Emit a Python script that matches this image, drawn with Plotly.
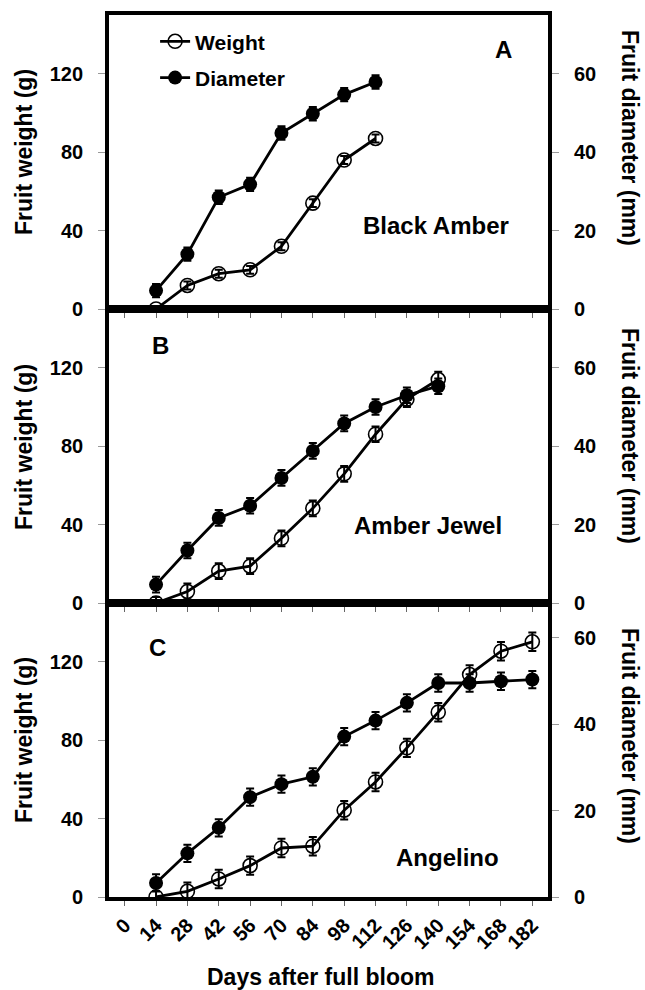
import plotly.graph_objects as go

days = [0, 14, 28, 42, 56, 70, 84, 98, 112, 126, 140, 154, 168, 182]

# Panel A - Black Amber
a_days = [14, 28, 42, 56, 70, 84, 98, 112]
a_weight = [0, 12, 18, 20, 32, 54, 76, 87]
a_weight_err = [1.5, 2, 2, 2, 2, 2, 2, 2]
a_diam = [4.7, 14.0, 28.5, 31.8, 44.9, 49.8, 54.7, 57.9]
a_diam_err = [1.7, 1.7, 1.7, 1.7, 1.7, 1.7, 1.7, 1.7]

# Panel B - Amber Jewel
b_days = [14, 28, 42, 56, 70, 84, 98, 112, 126, 140]
b_weight = [0, 5.9, 16.3, 18.8, 33, 48.3, 65.9, 86.1, 104, 114]
b_weight_err = [3, 4, 4, 4, 4, 4, 4, 4, 4, 4]
b_diam = [4.7, 13.4, 21.7, 24.8, 31.9, 38.8, 45.8, 50.0, 53.0, 55.3]
b_diam_err = [2, 2, 2, 2, 2, 2, 2, 2, 2, 2]

# Panel C - Angelino
c_days = [14, 28, 42, 56, 70, 84, 98, 112, 126, 140, 154, 168, 182]
c_weight = [0, 2.9, 9.2, 16, 25, 25.9, 44.3, 58.7, 76.1, 94.3, 113.5, 125.4, 130.2]
c_weight_err = [3, 4.5, 4.7, 4.7, 4.7, 4.7, 4.7, 4.7, 4.7, 4.7, 4.7, 4.7, 4.7]
c_diam = [3.25, 10.1, 16.0, 23.1, 26.1, 27.8, 37.1, 40.8, 44.9, 49.5, 49.5, 49.9, 50.3]
c_diam_err = [2, 2, 2, 2, 2, 2, 2, 2, 2, 2, 2, 2, 2]

left_ticks = [0, 40, 80, 120]
right_ticks = [0, 20, 40, 60]

FONT = "Liberation Sans"
NB = "\u00a0"
fig = go.Figure()

def add_pair(xd, w, we, d, de, xa, yl, yr, show):
    fig.add_trace(go.Scatter(
        x=xd, y=w, xaxis=xa, yaxis=yl, name="<b>Weight</b>", showlegend=show,
        legendgroup="w", mode="lines+markers",
        line=dict(color="black", width=2.8),
        marker=dict(symbol="circle-open", size=14, color="black", line=dict(width=1.6)),
        error_y=dict(type="data", array=we, color="black", thickness=2, width=4),
    ))
    fig.add_trace(go.Scatter(
        x=xd, y=d, xaxis=xa, yaxis=yr, name="<b>Diameter</b>", showlegend=show,
        legendgroup="d", mode="lines+markers",
        line=dict(color="black", width=2.8),
        marker=dict(symbol="circle", size=14, color="black"),
        error_y=dict(type="data", array=de, color="black", thickness=2, width=4),
    ))

add_pair(a_days, a_weight, a_weight_err, a_diam, a_diam_err, "x", "y", "y2", True)
add_pair(b_days, b_weight, b_weight_err, b_diam, b_diam_err, "x2", "y3", "y4", False)
add_pair(c_days, c_weight, c_weight_err, c_diam, c_diam_err, "x3", "y5", "y6", False)

tickfont = dict(family=FONT, size=20, color="black")

def xax(anchor, show_labels):
    return dict(
        range=[-7, 189], tickmode="array", tickvals=days,
        ticktext=[f"<b>{v}</b>" for v in days],
        showticklabels=show_labels, automargin=False,
        ticks="outside", ticklen=5, tickwidth=1, tickcolor="#666",
        showline=True, linecolor="black", linewidth=3.5, mirror=True,
        showgrid=False, zeroline=False, anchor=anchor,
        tickfont=tickfont, tickangle=-45,
    )

def yl(domain, xa):
    return dict(
        domain=domain, anchor=xa, range=[0, 150], automargin=False,
        tickmode="array", tickvals=left_ticks,
        ticktext=[f"<b>{v}</b>{NB}{NB}" for v in left_ticks],
        ticks="outside", ticklen=7, tickwidth=1, tickcolor="#999",
        showline=True, linecolor="black", linewidth=3.5,
        showgrid=False, zeroline=False, tickfont=tickfont,
    )

def yr(overlay, xa, top):
    return dict(
        overlaying=overlay, anchor=xa, side="right", range=[0, top], automargin=False,
        tickmode="array", tickvals=right_ticks,
        ticktext=[f"{NB}{NB}<b>{v}</b>" for v in right_ticks],
        ticks="outside", ticklen=7, tickwidth=1, tickcolor="#999",
        showline=True, linecolor="black", linewidth=3.5,
        showgrid=False, zeroline=False, tickfont=tickfont,
    )

L, R, T, B = 109, 97, 15, 93
W, H = 645, 990
PW, PH = W - L - R, H - T - B

fig.update_layout(
    width=W, height=H,
    margin=dict(l=L, r=R, t=T, b=B),
    paper_bgcolor="white", plot_bgcolor="white",
    font=dict(family=FONT, color="black"),
    xaxis=xax("y", False),
    xaxis2=xax("y3", False),
    xaxis3=xax("y5", True),
    yaxis=yl([2/3, 1], "x"),
    yaxis2=yr("y", "x", 75),
    yaxis3=yl([1/3, 2/3], "x2"),
    yaxis4=yr("y3", "x2", 75),
    yaxis5=yl([0, 1/3], "x3"),
    yaxis6=yr("y5", "x3", 68),
    legend=dict(x=0.105, y=0.993, xanchor="left", yanchor="top",
                font=dict(family=FONT, size=21, color="black"),
                bgcolor="rgba(0,0,0,0)", tracegroupgap=6, itemwidth=30,
                traceorder="grouped"),
    showlegend=True,
)

def ann(text, px, py, size=24, angle=0):
    return dict(text=f"<b>{text}</b>", xref="paper", yref="paper",
                x=(px - L) / PW, y=1 - (py - T) / PH, showarrow=False,
                xanchor="center", yanchor="middle", textangle=angle,
                font=dict(family=FONT, size=size, color="black"))

anns = [
    ann("A", 503, 50),
    ann("Black Amber", 436, 225),
    ann("B", 160, 345),
    ann("Amber Jewel", 428, 525),
    ann("C", 157, 647),
    ann("Angelino", 447, 857),
    ann("Days after full bloom", 320, 977, size=23),
]
# axis titles
for cy in [152, 447, 740]:
    anns.append(ann("Fruit weight (g)", 24, cy, size=23, angle=-90))
for cy in [138, 436, 736]:
    anns.append(ann("Fruit diameter (mm)", 630, cy, size=23, angle=90))
fig.update_layout(annotations=anns)

fig.write_html("out.html")
